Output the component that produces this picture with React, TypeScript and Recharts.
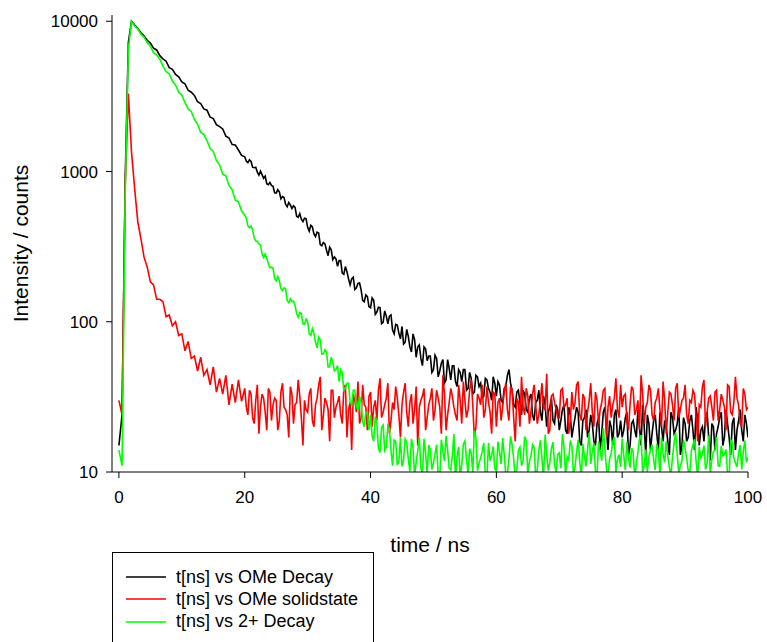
import { LineChart, Line, XAxis, YAxis, Legend } from 'recharts';

// time channels are 0.5 ns apart, 0 … 100 ns
const TIME_STEP_NS = 0.5;
// extra in-between channels (20.25 … 99.75 ns) where the traces are noisy
const MID_START_NS = 20.25;

// t[ns] vs OMe Decay
const OME_DECAY = [
  15, 24, 900, 7200, 10000, 9420, 8950, 8380, 7960, 7470,
  7150, 6610, 6440, 5900, 5620, 5420, 4910, 4780, 4430, 4260,
  3940, 3830, 3470, 3370, 3210, 2910, 2830, 2610, 2560, 2300,
  2250, 2050, 1990, 1920, 1720, 1670, 1510, 1500, 1390, 1280,
  1252, 1145, 1165, 1060, 990, 1006, 901, 830, 845, 796,
  718, 731, 681, 603, 621, 567, 577, 496, 481, 489,
  425, 438, 384, 395, 326, 337, 299, 313, 259, 262,
  255, 211, 233, 193, 193, 164, 180, 163, 136, 147,
  124, 139, 116, 124, 99, 109, 109, 88, 96, 84,
  93, 73, 80, 63, 76, 68, 57, 68, 55, 59,
  48, 57, 47, 56, 41, 49, 51, 40, 48, 40,
  48, 36, 42, 34, 43, 39, 32, 41, 34, 43,
  32, 38, 29, 37, 48, 35, 27, 35, 24, 33,
  25, 33, 22, 30, 25, 32, 20, 27, 22, 28,
  19, 26, 19, 27, 17, 23, 25, 15, 23, 17,
  24, 16, 21, 14, 25, 19, 22, 15, 26, 18,
  17, 23, 13, 21, 19, 26, 15, 20, 24, 14,
  22, 18, 25, 16, 20, 13, 23, 19, 27, 15,
  21, 17, 24, 14, 22, 19, 16, 25, 12, 20,
  18, 23, 15, 26, 17, 21, 14, 22, 19, 24,
  17,
];
const OME_DECAY_MID = [
  1174, 1196, 1068, 1066, 945, 953, 931, 817, 808, 722,
  757, 658, 671, 582, 600, 591, 504, 524, 464, 486,
  400, 428, 369, 390, 320, 330, 275, 301, 270, 234,
  255, 207, 215, 176, 198, 168, 181, 139, 151, 126,
  144, 112, 125, 97, 118, 97, 111, 83, 95, 77,
  71, 89, 68, 83, 58, 70, 51, 66, 59, 46,
  60, 43, 53, 39, 56, 41, 51, 37, 46, 48,
  35, 46, 33, 44, 37, 31, 42, 36, 30, 39,
  40, 30, 36, 44, 39, 28, 34, 29, 35, 26,
  31, 24, 29, 35, 22, 28, 25, 31, 21, 26,
  22, 28, 18, 24, 20, 27, 16, 22, 26, 19,
  21, 15, 23, 18, 27, 14, 20, 24, 17, 22,
  19, 25, 15, 22, 17, 20, 28, 13, 21, 18,
  24, 14, 20, 22, 16, 25, 18, 21, 13, 23,
  16, 22, 19, 27, 15, 20, 23, 17, 21, 14,
  20, 25, 17, 21, 13, 23, 19, 26, 16, 21,
];

// t[ns] vs OMe solidstate
const OME_SOLID = [
  30, 24, 800, 3300, 1350, 770, 462, 356, 268, 231,
  184, 176, 141, 141, 136, 108, 111, 94, 100, 81,
  83, 64, 74, 57, 59, 47, 58, 44, 48, 38,
  50, 34, 42, 33, 44, 28, 38.5, 29, 41, 29.5,
  36, 24, 33, 21, 38, 27, 31, 19, 34, 28,
  30, 22, 39, 26, 17, 33, 28, 41, 23, 30,
  25, 36, 20, 31, 43, 24, 29, 16, 35, 27,
  32, 21, 38, 26, 14, 30, 40, 23, 28, 19,
  34, 27, 22, 42, 25, 31, 18, 29, 37, 24,
  28, 39, 20, 33, 26, 15, 30, 36, 23, 31,
  22, 35, 27, 44, 19, 29, 32, 24, 38, 21,
  30, 26, 41, 17, 33, 28, 23, 37, 25, 34,
  20, 31, 27, 39, 22, 35, 16, 29, 43, 24,
  32, 25, 38, 21, 30, 27, 45, 19, 33, 26,
  23, 36, 28, 18, 34, 29, 40, 22, 31, 25,
  39, 20, 30, 26, 35, 17, 32, 28, 42, 23,
  27, 33, 19, 37, 24, 30, 44, 21, 29, 35,
  22, 31, 26, 40, 18, 34, 28, 36, 23, 30,
  38, 21, 29, 33, 16, 27, 41, 25, 32, 22,
  35, 26, 30, 19, 37, 24, 43, 28, 20, 33,
  27,
];
const OME_SOLID_MID = [
  27, 35, 23, 30, 18, 33, 25, 36, 22, 31,
  19, 34, 27, 24, 37, 21, 29, 32, 15, 26,
  33, 22, 28, 38, 19, 31, 26, 35, 23, 29,
  24, 36, 17, 29, 33, 25, 21, 38, 27, 32,
  20, 30, 35, 23, 28, 39, 22, 26, 31, 17,
  34, 25, 29, 21, 37, 27, 32, 19, 28, 36,
  26, 31, 18, 33, 24, 36, 27, 22, 30, 40,
  23, 35, 28, 20, 31, 38, 26, 29, 18, 33,
  29, 22, 34, 26, 37, 23, 31, 20, 27, 36,
  21, 33, 28, 24, 39, 26, 18, 32, 29, 23,
  35, 27, 31, 22, 26, 38, 24, 33, 19, 30,
  25, 34, 21, 29, 36, 27, 23, 31, 26, 38,
  32, 22, 28, 35, 26, 19, 33, 27, 38, 24,
  29, 36, 20, 30, 25, 33, 22, 39, 26, 31,
  24, 30, 35, 23, 28, 37, 20, 31, 27, 34,
  22, 33, 27, 38, 25, 29, 31, 21, 36, 26,
];

// t[ns] vs 2+ Decay
const DECAY_2PLUS = [
  14, 11, 700, 6500, 10000, 9300, 8870, 8200, 7810, 7180,
  6830, 6180, 5950, 5590, 5020, 4620, 4460, 4000, 3760, 3360,
  3220, 2870, 2610, 2510, 2220, 2070, 1820, 1760, 1600, 1420,
  1360, 1180, 1107, 960, 936, 804, 756, 643, 628, 545,
  511, 435, 433, 362, 342, 322, 268, 265, 229, 227,
  187, 188, 161, 165, 134, 136, 129, 107, 113, 96,
  100, 81, 84, 67, 76, 61, 63, 50, 54, 48,
  40, 46, 36, 39, 28, 35, 26, 29, 20, 25,
  24, 16, 21, 13.5, 20.5, 14.6, 19.5, 11, 16, 11.8,
  10.9, 16.6, 12.2, 16.6, 9.4, 13.8, 10.6, 16.6, 9.7, 14.1,
  11.5, 15.2, 9.1, 13.8, 17.4, 10.6, 12.9, 8.8, 14.7, 11.2,
  16.1, 9.8, 13.3, 18.9, 10.2, 12.4, 15.6, 9.3, 11.9, 14.8,
  10.1, 13.6, 16.8, 9.5, 12.2, 15.1, 8.9, 13.9, 11.0, 17.2,
  9.7, 12.8, 14.6, 10.4, 16.3, 9.2, 13.1, 11.6, 15.8, 10.0,
  13.4, 17.9, 9.6, 12.0, 14.9, 10.8, 16.4, 9.0, 12.7, 14.2,
  11.3, 15.5, 9.4, 13.7, 19.6, 10.5, 12.3, 15.9, 9.9, 13.0,
  16.7, 10.3, 12.5, 14.4, 9.1, 13.5, 17.6, 11.1, 10.0, 14.0,
  12.1, 15.4, 9.5, 13.2, 16.0, 10.7, 12.6, 18.3, 9.8, 11.8,
  14.5, 10.2, 13.9, 16.5, 9.3, 12.4, 15.0, 11.4, 9.7, 13.6,
  17.1, 10.9, 12.8, 14.1, 9.2, 15.7, 11.5, 13.3, 10.4, 16.2,
  12.5,
];
const DECAY_2PLUS_MID = [
  490, 423, 408, 345, 330, 284, 282, 243, 231, 195,
  200, 166, 168, 138, 142, 137, 113, 115, 97, 104,
  83, 90, 73, 79, 61, 65, 50, 58, 47, 51,
  48, 35, 39, 29, 35, 27, 32, 21.5, 25, 19,
  17.4, 23.4, 14.4, 19.8, 13.9, 20.4, 13.8, 16.3, 11.1, 16.8,
  12.0, 15.8, 10.1, 14.5, 11.6, 17.0, 9.6, 13.4, 15.1, 10.4,
  13.1, 9.6, 16.4, 11.8, 14.0, 10.3, 17.9, 12.6, 9.4, 15.3,
  12.2, 14.3, 10.0, 16.9, 11.5, 13.7, 9.5, 15.6, 12.8, 10.6,
  15.9, 11.3, 13.0, 9.8, 17.3, 12.3, 10.5, 14.6, 12.0, 16.1,
  11.7, 15.2, 9.3, 13.8, 12.1, 17.7, 10.2, 14.3, 11.2, 13.1,
  10.6, 14.7, 12.6, 16.2, 9.7, 13.5, 11.8, 15.4, 10.9, 18.2,
  13.8, 10.1, 16.0, 11.9, 14.4, 9.5, 13.2, 17.1, 12.2, 10.8,
  12.9, 15.8, 10.7, 13.6, 11.4, 16.6, 9.9, 14.1, 12.6, 15.2,
  10.3, 13.9, 17.0, 11.6, 12.8, 9.6, 15.5, 13.0, 11.1, 16.4,
  12.3, 9.9, 15.2, 11.8, 14.7, 13.2, 10.4, 17.5, 12.1, 14.0,
  11.0, 14.9, 13.1, 9.7, 16.3, 12.4, 10.8, 15.1, 13.7, 11.6,
];

const X_TICKS = [0, 20, 40, 60, 80, 100];
const Y_TICKS = [10, 100, 1000, 10000];

const SERIES = [
  { key: 'omeDecay', name: 't[ns] vs OMe Decay', color: '#000000' },
  { key: 'omeSolid', name: 't[ns] vs OMe solidstate', color: '#ff0000' },
  { key: 'decay2', name: 't[ns] vs 2+ Decay', color: '#00ff00' },
];

const FONT = '"Liberation Sans", Arial, sans-serif';

// merge the regular and in-between channels into one time-ordered table
const chartData = [
  ...OME_DECAY.map((v, i) => ({
    t: i * TIME_STEP_NS,
    omeDecay: v,
    omeSolid: OME_SOLID[i],
    decay2: DECAY_2PLUS[i],
  })),
  ...OME_DECAY_MID.map((v, i) => ({
    t: MID_START_NS + i * TIME_STEP_NS,
    omeDecay: v,
    omeSolid: OME_SOLID_MID[i],
    decay2: DECAY_2PLUS_MID[i],
  })),
].sort((a, b) => a.t - b.t);

// boxed legend like the SigmaPlot one, sits under the axis
const BoxLegend = () => (
  <div
    style={{
      width: 262,
      height: 100,
      border: '1px solid #000',
      boxSizing: 'border-box',
      paddingTop: 13,
      fontFamily: FONT,
      fontSize: 18,
      background: '#fff',
    }}
  >
    {SERIES.map((s) => (
      <div key={s.key} style={{ display: 'flex', alignItems: 'center', height: 22.3 }}>
        <svg width={50} height={10} style={{ marginLeft: 13 }}>
          <line x1={0} y1={5} x2={40} y2={5} stroke={s.color} strokeWidth={1.5} />
        </svg>
        <span style={{ color: '#000', whiteSpace: 'nowrap' }}>{s.name}</span>
      </div>
    ))}
  </div>
);

export default function App() {
  const tickStyle = { fill: '#000', fontSize: 17, fontFamily: FONT };

  return (
    <div style={{ position: 'absolute', left: 0, top: 0, background: '#fff' }}>
      <LineChart
        width={767}
        height={642}
        data={chartData}
        margin={{ top: 15, right: 19, left: 21, bottom: 90 }}
      >
        <XAxis
          xAxisId="main"
          dataKey="t"
          type="number"
          domain={[-1.1, 100]}
          ticks={X_TICKS}
          allowDataOverflow
          height={80}
          stroke="#000"
          tickSize={6}
          tickMargin={13}
          tick={tickStyle}
          label={{
            value: 'time / ns',
            position: 'insideBottom',
            offset: 0,
            style: { fill: '#000', fontSize: 21, fontFamily: FONT },
          }}
        />
        <XAxis
          xAxisId="top"
          dataKey="t"
          type="number"
          orientation="top"
          domain={[-1.1, 100]}
          height={0}
          tick={false}
          tickLine={false}
          stroke="#000"
        />
        <YAxis
          yAxisId="main"
          scale="log"
          domain={[10, 11000]}
          ticks={Y_TICKS}
          allowDataOverflow
          width={91}
          stroke="#000"
          tickSize={6}
          tickMargin={8}
          tick={tickStyle}
          label={{
            value: 'Intensity / counts',
            angle: -90,
            position: 'insideLeft',
            offset: 0,
            style: { fill: '#000', fontSize: 21, fontFamily: FONT, textAnchor: 'middle' },
          }}
        />
        <YAxis
          yAxisId="right"
          orientation="right"
          scale="log"
          domain={[10, 11000]}
          width={0}
          tick={false}
          tickLine={false}
          stroke="#000"
        />
        <Legend
          layout="horizontal"
          verticalAlign="middle"
          align="center"
          content={<BoxLegend />}
          wrapperStyle={{ left: 112, top: 552, width: 262, height: 100 }}
        />
        {SERIES.map((s) => (
          <Line
            key={s.key}
            xAxisId="main"
            yAxisId="main"
            type="linear"
            dataKey={s.key}
            name={s.name}
            stroke={s.color}
            strokeWidth={1.6}
            dot={false}
            isAnimationActive={false}
          />
        ))}
      </LineChart>
    </div>
  );
}
